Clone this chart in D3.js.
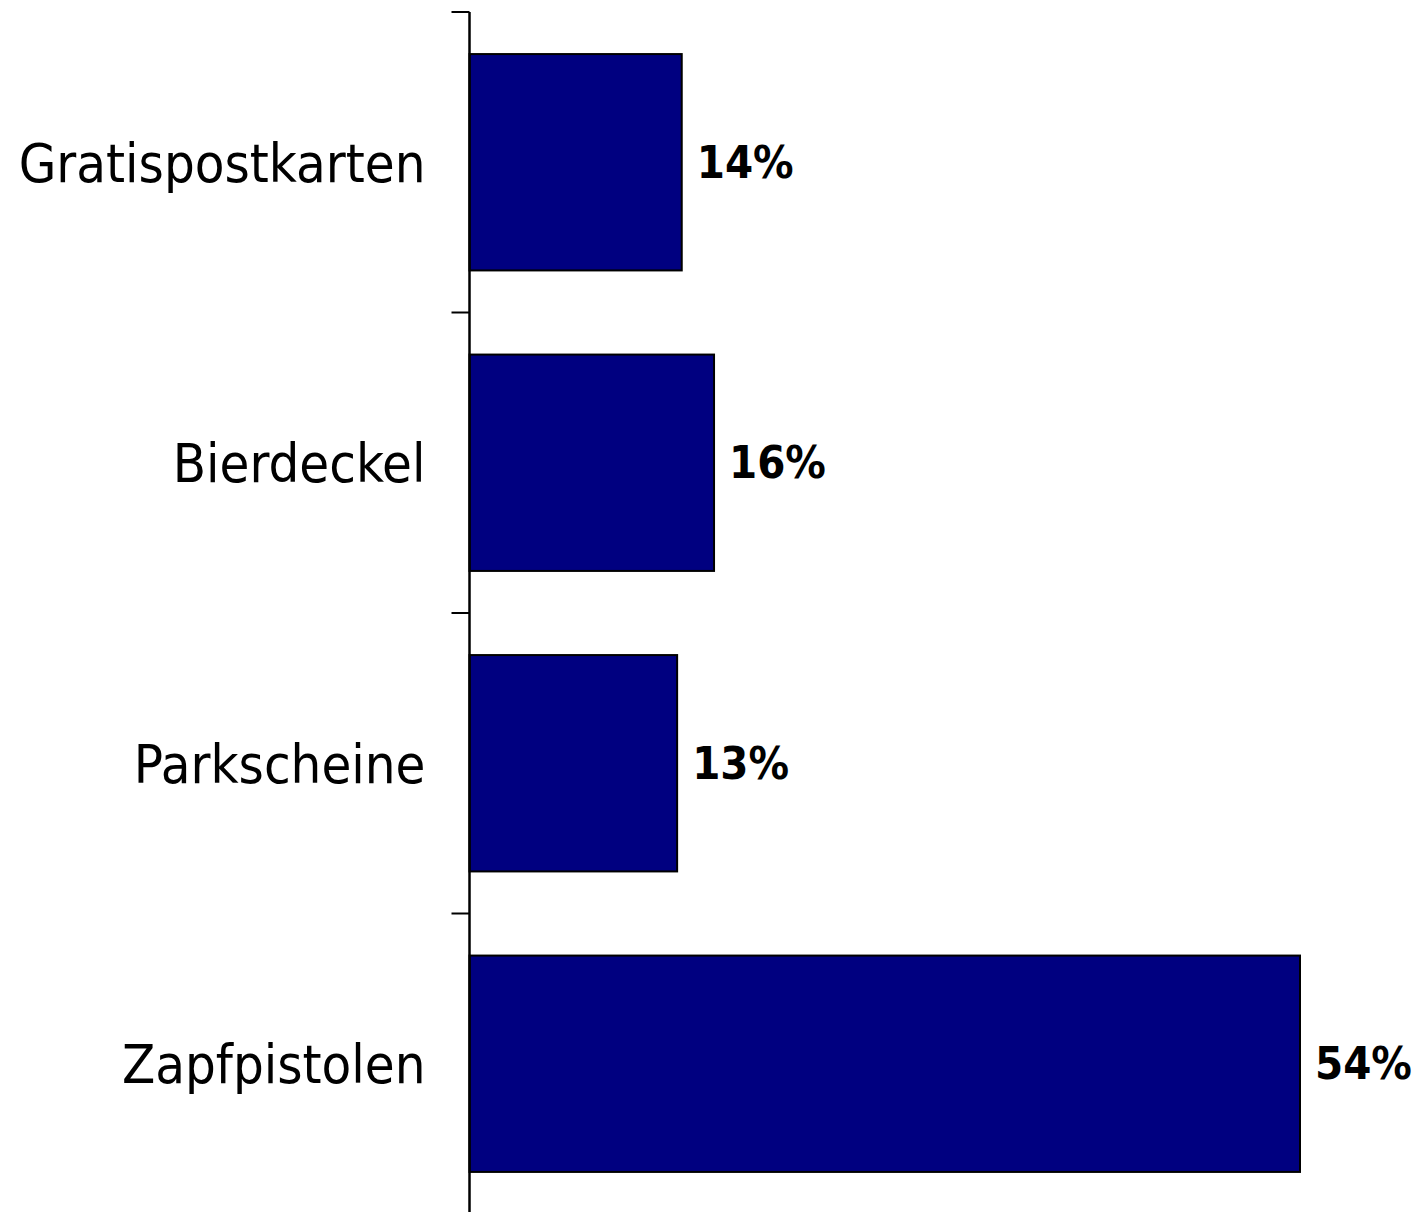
<!DOCTYPE html>
<html lang="de">
<head>
  <meta charset="UTF-8">
  <title>Balkendiagramm</title>
  <script src="https://d3js.org/d3.v7.min.js"></script>
  <style>
    body { margin: 0; background: #fff; }
    .cat { font-family: "DejaVu Sans Condensed", "DejaVu Sans", sans-serif; font-stretch: condensed; font-size: 54px; fill: #000; }
    .val { font-family: "DejaVu Sans Condensed", "DejaVu Sans", sans-serif; font-stretch: condensed; font-weight: bold; font-size: 45px; fill: #000; }
  </style>
</head>
<body>
  <div id="chart"></div>
  <script>
    // Daten
    const categories = ["Gratispostkarten", "Bierdeckel", "Parkscheine", "Zapfpistolen"];
    const values = [13.8, 15.9, 13.5, 54];
    const valueLabels = ["14%", "16%", "13%", "54%"];

    const width = 1416;
    const height = 1212;
    const axisX = 469.5;

    const svg = d3.select("#chart")
      .append("svg")
      .attr("width", width)
      .attr("height", height);

    const x = d3.scaleLinear()
      .domain([0, 54])
      .range([axisX, 1300]);

    const y = d3.scaleBand()
      .domain(categories)
      .range([12, 1214])
      .paddingInner(0.28)
      .paddingOuter(0.14);

    const step = y.step();
    const gap = step * y.paddingInner() / 2;

    // Balken
    svg.selectAll(".bar")
      .data(categories)
      .enter()
      .append("rect")
      .attr("class", "bar")
      .attr("x", x(0))
      .attr("y", d => y(d))
      .attr("width", (d, i) => x(values[i]) - x(0))
      .attr("height", y.bandwidth())
      .attr("fill", "#000080")
      .attr("stroke", "#000")
      .attr("stroke-width", 2);

    // Achse
    svg.append("line")
      .attr("x1", axisX).attr("x2", axisX)
      .attr("y1", y.range()[0]).attr("y2", y.range()[1])
      .attr("stroke", "#000").attr("stroke-width", 2.5);

    svg.selectAll(".tick")
      .data(categories)
      .enter()
      .append("line")
      .attr("class", "tick")
      .attr("x1", axisX - 18).attr("x2", axisX)
      .attr("y1", d => y(d) - gap).attr("y2", d => y(d) - gap)
      .attr("stroke", "#000").attr("stroke-width", 2);

    // Beschriftungen
    svg.selectAll(".cat")
      .data(categories)
      .enter()
      .append("text")
      .attr("class", "cat")
      .attr("x", axisX - 44)
      .attr("y", d => y(d) + y.bandwidth() / 2)
      .attr("dy", "0.36em")
      .attr("text-anchor", "end")
      .text(d => d);

    svg.selectAll(".val")
      .data(categories)
      .enter()
      .append("text")
      .attr("class", "val")
      .attr("x", (d, i) => x(values[i]) + 15)
      .attr("y", d => y(d) + y.bandwidth() / 2)
      .attr("dy", "0.34em")
      .text((d, i) => valueLabels[i]);
  </script>
</body>
</html>
